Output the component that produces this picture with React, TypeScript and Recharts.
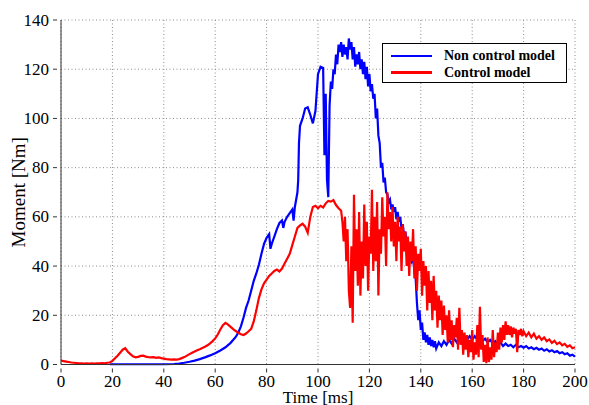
import React from "react";
import { LineChart, Line, XAxis, YAxis, CartesianGrid, Label } from "recharts";

// Moment readings over time, [time ms, moment Nm]
const nonControlReadings: [number, number][] = [
  [19, 0.1], [25, 0.1], [30, 0.1], [35, 0.1], [40, 0.1], [44, 0.2], [46, 0.4], [48, 0.7], [50, 1.1],
  [52, 1.6], [54, 2.2], [56, 2.9], [58, 3.7], [60, 4.6], [62, 5.7], [64, 7.0], [66, 8.8], [68, 11.2],
  [69, 13], [70, 15.5], [71, 19], [72, 23], [73, 26], [74, 30], [75, 34], [76, 37], [77, 40.5],
  [78, 45], [79, 49], [80, 51.5], [81, 53], [81.5, 47], [82, 49], [83, 52], [84, 55], [85, 57.5],
  [86, 58.5], [86.5, 55.5], [87, 58], [88, 60], [89, 61.5], [90, 63], [90.5, 58.5], [91, 64],
  [92, 70], [92.3, 75], [92.6, 90], [93, 97], [94, 100], [95, 104], [96, 104.5], [97, 101.5],
  [98, 98], [99, 103], [100, 118], [101, 121], [102, 120.5], [102.5, 85], [103, 110], [103.5, 75],
  [104, 68], [104.5, 105], [105, 115], [105.5, 112], [106, 120], [106.5, 118], [107, 126],
  [107.5, 122], [108, 130], [108.5, 127], [109, 131], [109.5, 125], [110, 130], [110.5, 126],
  [111, 129], [111.5, 124], [112, 132.5], [112.5, 128], [113, 131], [113.5, 124], [114, 129],
  [114.5, 121], [115, 126], [115.5, 122], [116, 127], [116.5, 120], [117, 124], [117.5, 118],
  [118, 123], [118.5, 116], [119, 121], [119.5, 113], [120, 118], [120.5, 111], [121, 114],
  [121.5, 108], [122, 110], [122.5, 100], [123, 104], [123.5, 93], [124, 90], [124.5, 80],
  [125, 82], [125.5, 74], [126, 76], [126.5, 70], [127, 69], [127.5, 66], [128, 67], [128.5, 63],
  [129, 65], [129.5, 62], [130, 64], [130.5, 59], [131, 62], [131.5, 58], [132, 60], [132.5, 55],
  [133, 57], [133.5, 52], [134, 54], [134.5, 49], [135, 50], [135.5, 46], [136, 47], [136.5, 42],
  [137, 43], [137.5, 38], [138, 35], [138.5, 25], [139, 18], [139.5, 22], [140, 14], [140.5, 17],
  [141, 10], [141.5, 13], [142, 9], [142.5, 12], [143, 8], [143.5, 11], [144, 7.5], [144.5, 10],
  [145, 7], [145.5, 9.5], [146, 6.5], [147, 9], [148, 7.5], [149, 9.5], [150, 8], [151, 10],
  [152, 8.5], [153, 10.5], [154, 9], [155, 11], [156, 9.5], [157, 11], [158, 10], [159, 11.5],
  [160, 10], [161, 11.5], [162, 10], [163, 11], [164, 9.5], [165, 10.5], [166, 9], [167, 10],
  [168, 8.5], [169, 9.5], [170, 8], [171, 9], [172, 7.5], [173, 8.5], [174, 7.5], [175, 8],
  [176, 7], [177, 8], [178, 7], [179, 7.5], [180, 6.8], [181, 7.5], [182, 6.5], [183, 7],
  [184, 6.2], [185, 6.8], [186, 6], [187, 6.5], [188, 5.6], [189, 6.2], [190, 5.3], [191, 5.8],
  [192, 5], [193, 5.5], [194, 4.6], [195, 5], [196, 4.2], [197, 4.6], [198, 3.6], [199, 4], [200, 3.2],
];

const controlReadings: [number, number][] = [
  [0, 1.6], [1, 1.4], [2, 1.2], [3, 1.0], [4, 0.8], [5, 0.7], [6, 0.6], [7, 0.5], [8, 0.5], [9, 0.4],
  [10, 0.5], [11, 0.4], [12, 0.5], [13, 0.4], [14, 0.5], [15, 0.5], [16, 0.6], [17, 0.5], [18, 0.7],
  [19, 0.8], [20, 1.5], [21, 2.5], [22, 3.6], [23, 4.8], [24, 6.0], [25, 6.6], [26, 5.2], [27, 4.2],
  [28, 3.3], [29, 2.9], [30, 3.1], [31, 3.5], [32, 3.6], [33, 3.2], [34, 3.0], [35, 2.9], [36, 3.0],
  [37, 2.7], [38, 2.9], [39, 2.6], [40, 2.4], [41, 2.2], [42, 2.1], [43, 2.0], [44, 2.1], [45, 2.0],
  [46, 2.2], [47, 2.6], [48, 3.0], [49, 3.6], [50, 4.2], [51, 4.8], [52, 5.3], [53, 5.8], [54, 6.2],
  [55, 6.7], [56, 7.2], [57, 7.8], [58, 8.6], [59, 9.5], [60, 10.6], [61, 12.2], [62, 14.2],
  [63, 16.0], [64, 16.9], [65, 16.2], [66, 15.3], [67, 14.4], [68, 13.6], [69, 12.9], [70, 12.3],
  [71, 12.0], [72, 12.6], [73, 13.5], [74, 14.5], [75, 17.5], [76, 22], [77, 27], [78, 30.5],
  [79, 33], [80, 34.5], [81, 36], [82, 37], [83, 38], [84, 38.6], [85, 37.8], [86, 39], [87, 41],
  [88, 43], [89, 45], [90, 48.5], [91, 52], [92, 55.5], [93, 56.5], [94, 57.2], [95, 56],
  [96, 53.5], [97, 60], [98, 64], [99, 64.5], [100, 63.5], [101, 64.5], [102, 63.8], [103, 65.5],
  [104, 66.5], [105, 66.2], [106, 66.8], [107, 64.8], [108, 63.5], [109, 62.5],
  [109.5, 58], [110, 50], [110.5, 60], [111, 42], [111.5, 55], [112, 30], [112.5, 23], [113, 48],
  [113.5, 17], [114, 69], [114.5, 38], [115, 55], [115.5, 32], [116, 62], [116.5, 28], [117, 50],
  [117.5, 35], [118, 65], [118.5, 40], [119, 58], [119.5, 30], [120, 52], [120.5, 45], [121, 71],
  [121.5, 38], [122, 60], [122.5, 42], [123, 66], [123.5, 28], [124, 55], [124.5, 45], [125, 68],
  [125.5, 52], [126, 60], [126.5, 40], [127, 70], [127.5, 55], [128, 62], [128.5, 50], [129, 64],
  [129.5, 48], [130, 58], [130.5, 42], [131, 60], [131.5, 50], [132, 56], [132.5, 38], [133, 57],
  [133.5, 46], [134, 54], [134.5, 40], [135, 52], [135.5, 36], [136, 50], [136.5, 42], [137, 55],
  [137.5, 35], [138, 48], [138.5, 30], [139, 45], [139.5, 38], [140, 47], [140.5, 28], [141, 42],
  [141.5, 32], [142, 40], [142.5, 22], [143, 38], [143.5, 25], [144, 34], [144.5, 18], [145, 36],
  [145.5, 22], [146, 30], [146.5, 15], [147, 28], [147.5, 18], [148, 26], [148.5, 12], [149, 24],
  [149.5, 14], [150, 20], [150.5, 9], [151, 22], [151.5, 10], [152, 18], [152.5, 7], [153, 16],
  [153.5, 11], [154, 19], [154.5, 6], [155, 23], [155.5, 8], [156, 14], [156.5, 4], [157, 13],
  [157.5, 6], [158, 12], [158.5, 3], [159, 10], [159.5, 5], [160, 14], [160.5, 2], [161, 9],
  [161.5, 4], [162, 16], [162.5, 3], [163, 23.5], [163.5, 6], [164, 12], [164.5, 1], [165, 8],
  [165.5, 0.5], [166, 11], [166.5, 1], [167, 7], [167.5, 2], [168, 14], [168.5, 3], [169, 9],
  [169.5, 5], [170, 13], [170.5, 6], [171, 15], [171.5, 9], [172, 16], [172.5, 10], [173, 17.5],
  [173.5, 12], [174, 16], [174.5, 12], [175, 15.5], [175.5, 11], [176, 15], [176.5, 12.5],
  [177, 14.5], [177.5, 5], [178, 14], [178.5, 12], [179, 14.5], [179.5, 11.5], [180, 13.5],
  [181, 11.5], [182, 13], [183, 11], [184, 12.5], [185, 10.5], [186, 11.5], [187, 10], [188, 11],
  [189, 9.5], [190, 10.2], [191, 8.8], [192, 9.6], [193, 8.3], [194, 9], [195, 7.8], [196, 8.4],
  [197, 7.2], [198, 7.8], [199, 6.6], [200, 7],
];

const timeTicks = [0, 20, 40, 60, 80, 100, 120, 140, 160, 180, 200];
const momentTicks = [0, 20, 40, 60, 80, 100, 120, 140];

const series = [
  { key: "nonControl", name: "Non control model", color: "#0000ff", readings: nonControlReadings },
  { key: "control", name: "Control model", color: "#ff0000", readings: controlReadings },
];

const toRows = (readings: [number, number][]) => readings.map(([t, m]) => ({ t, m }));

const FONT = "'Liberation Serif', 'Times New Roman', Times, serif";
const FS = 17;
const TITLE_FS = 17;

function XTick(props: any) {
  const { x, y, payload } = props;
  return (
    <g>
      <line x1={x} x2={x} y1={y} y2={y - 4} stroke="#333" />
      <text x={x} y={y + 14.5} textAnchor="middle" fontFamily={FONT} fontSize={FS} fill="#000">
        {payload.value}
      </text>
    </g>
  );
}

function YTick(props: any) {
  const { x, y, payload } = props;
  return (
    <g>
      <line x1={x} x2={x + 4} y1={y} y2={y} stroke="#333" />
      <text x={x - 4} y={y + 5.5} textAnchor="end" fontFamily={FONT} fontSize={FS} fill="#000">
        {payload.value}
      </text>
    </g>
  );
}

function LegendBox() {
  return (
    <div
      style={{
        position: "absolute",
        left: 382,
        top: 43,
        width: 183,
        height: 38,
        border: "1.5px solid #000",
        background: "#fff",
        fontFamily: FONT,
        fontWeight: "bold",
        fontSize: 14,
        color: "#000",
      }}
    >
      {series.map((s, i) => (
        <div
          key={s.key}
          style={{ position: "absolute", left: 0, top: 4 + i * 16.6, height: 16, display: "flex", alignItems: "center" }}
        >
          <div style={{ marginLeft: 8, width: 41, height: 2.5, background: s.color }} />
          <span style={{ marginLeft: 12, lineHeight: "16px", whiteSpace: "nowrap" }}>{s.name}</span>
        </div>
      ))}
    </div>
  );
}

export default function App() {
  return (
    <div style={{ position: "absolute", left: 0, top: 0, width: 589, height: 405, background: "#fff" }}>
      <LineChart width={589} height={405} margin={{ top: 20, right: 14, bottom: 0, left: 0 }}>
        <CartesianGrid stroke="#8a8a8a" strokeDasharray="1 2.5" strokeWidth={1} />
        <XAxis
          dataKey="t"
          type="number"
          domain={[0, 200]}
          ticks={timeTicks}
          height={40.5}
          allowDuplicatedCategory={false}
          axisLine={{ stroke: "#333", strokeWidth: 1 }}
          tickLine={false}
          tick={<XTick />}
        >
          <Label
            content={(p: any) => {
              const vb = p.viewBox;
              return (
                <text x={vb.x + vb.width / 2} y={402.5} textAnchor="middle" fontFamily={FONT} fontSize={TITLE_FS} fill="#000">
                  Time [ms]
                </text>
              );
            }}
          />
        </XAxis>
        <YAxis
          type="number"
          domain={[0, 140]}
          ticks={momentTicks}
          width={61}
          axisLine={{ stroke: "#333", strokeWidth: 1 }}
          tickLine={false}
          tick={<YTick />}
        >
          <Label
            content={(p: any) => {
              const vb = p.viewBox;
              const cx = 25;
              const cy = vb.y + vb.height / 2;
              return (
                <text x={cx} y={cy} transform={`rotate(-90 ${cx} ${cy})`} textAnchor="middle" fontFamily={FONT} fontSize={19} fill="#000">
                  Moment [Nm]
                </text>
              );
            }}
          />
        </YAxis>
        {series.map((s) => (
          <Line
            key={s.key}
            data={toRows(s.readings)}
            dataKey="m"
            name={s.name}
            type="linear"
            stroke={s.color}
            strokeWidth={2.2}
            dot={false}
            activeDot={false}
            isAnimationActive={false}
          />
        ))}
      </LineChart>
      <LegendBox />
    </div>
  );
}
